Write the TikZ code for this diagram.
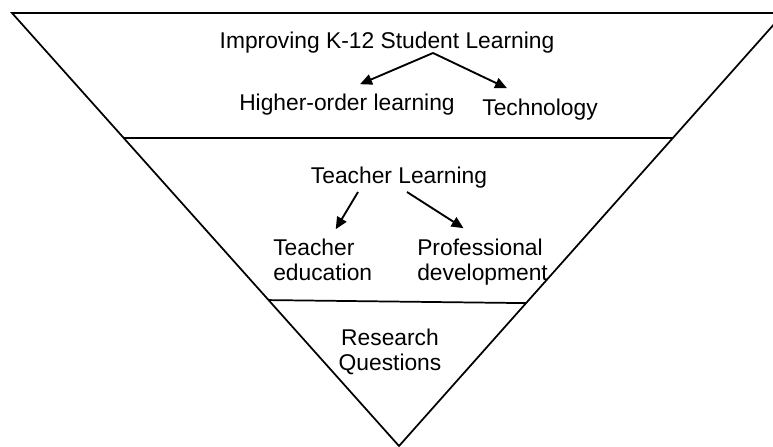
\documentclass[tikz,border=0pt]{standalone}
\usepackage{fontspec}
\setmainfont{Liberation Sans}
\usetikzlibrary{arrows.meta,calc}

\tikzset{
  wall/.style={line width=1.3pt, line join=miter},
  txt/.style={inner sep=0pt, anchor=base},
  arr/.style={line width=1.4pt, -{Triangle[length=9pt,width=8pt]}}
}

\begin{document}
\begin{tikzpicture}[x=0.75pt,y=-0.75pt,font=\fontsize{17.1}{18.75}\selectfont]
\path[use as bounding box, clip] (0,0) rectangle (773,446);

% funnel outline and its two cuts
\coordinate (tl) at (12,13);
\coordinate (tr) at (784,13);
\coordinate (tip) at (399,446);
\draw[wall] (tl) -- (tr) -- (tip) -- cycle;
\draw[wall] ($(tl)!0.289!(tip)$) -- ($(tr)!0.289!(tip)$);
\draw[wall] ($(tl)!0.663!(tip)$) -- ($(tr)!0.670!(tip)$);

% top band
\node (goal) [txt] at (387,48) {Improving K-12 Student Learning};
\node (higher) [txt] at (347,110) {Higher-order learning};
\node (tech) [txt] at (540,115) {Technology};
\coordinate (fork) at ($(goal.south)+(46,0)$);
\draw[arr] (fork) -- ($(higher.north)+(13,-9)$);
\draw[arr] (fork) -- ($(tech.north)+(-33,-10)$);

% middle band (multi-line nodes sit on their last baseline)
\node (teach) [txt] at (399,183) {Teacher Learning};
\node (tedu) [txt, align=left, anchor=base west] at (273,280) {Teacher\\education};
\node (prof) [txt, align=left, anchor=base west] at (417,280) {Professional\\development};
\draw[arr] ($(teach.south)+(-41,4)$) -- ($(tedu.north)+(13,-9)$);
\draw[arr] ($(teach.south)+(8,4)$) -- ($(prof.north)+(-19,-10)$);

% bottom band
\node (rq) [txt, align=center] at (390,370) {Research\\Questions};
\end{tikzpicture}
\end{document}
